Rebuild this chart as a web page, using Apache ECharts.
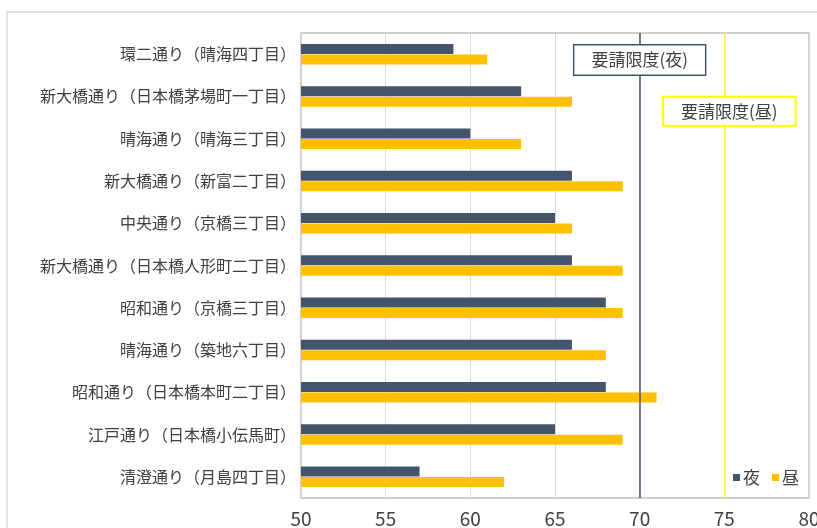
<!DOCTYPE html>
<html>
<head>
<meta charset="utf-8">
<script src="https://cdn.jsdelivr.net/npm/echarts@6/dist/echarts.min.js"></script>
<style>
html,body{margin:0;padding:0;background:#fff;}
#chart{width:817px;height:528px;}
</style>
</head>
<body>
<div id="chart"></div>
<script>
var categories = [
  '環二通り（晴海四丁目）',
  '新大橋通り（日本橋茅場町一丁目）',
  '晴海通り（晴海三丁目）',
  '新大橋通り（新富二丁目）',
  '中央通り（京橋三丁目）',
  '新大橋通り（日本橋人形町二丁目）',
  '昭和通り（京橋三丁目）',
  '晴海通り（築地六丁目）',
  '昭和通り（日本橋本町二丁目）',
  '江戸通り（日本橋小伝馬町）',
  '清澄通り（月島四丁目）'
];
var nightValues = [59, 63, 60, 66, 65, 66, 68, 66, 68, 65, 57];
var dayValues   = [61, 66, 63, 69, 66, 69, 69, 68, 71, 69, 62];
var nightLimit = 70;
var dayLimit = 75;
var nightLimitLabel = '要請限度(夜)';
var dayLimitLabel = '要請限度(昼)';
var seriesNames = ['夜', '昼'];

var FONT = '"Noto Sans CJK JP", "Noto Sans", sans-serif';
var chart = echarts.init(document.getElementById('chart'));
chart.setOption({
  animation: false,
  backgroundColor: '#fff',
  textStyle: { fontFamily: FONT },
  graphic: [{
    type: 'rect', z: -10, silent: true,
    shape: { x: 7, y: 12, width: 900, height: 600 },
    style: { fill: 'none', stroke: '#d9d9d9', lineWidth: 1.5 }
  }],
  grid: {
    left: 301, right: 8, top: 33, bottom: 30,
    outerBoundsMode: 'none', containLabel: false,
    show: true, borderColor: '#bfbfbf', borderWidth: 1.5, backgroundColor: 'transparent'
  },
  legend: {
    data: seriesNames,
    right: 13, top: 464,
    itemWidth: 7, itemHeight: 7, itemGap: 12,
    icon: 'rect',
    textStyle: { fontSize: 17, color: '#404040', fontFamily: FONT, padding: [0, 0, 0, -2] }
  },
  xAxis: {
    type: 'value', min: 50, max: 80, interval: 5,
    axisLine: { show: false }, axisTick: { show: false },
    splitLine: { show: true, lineStyle: { color: '#d9d9d9', width: 1 } },
    axisLabel: { fontSize: 19, color: '#404040', margin: 11, fontFamily: FONT, hideOverlap: false }
  },
  yAxis: {
    type: 'category', data: categories, inverse: true,
    axisLine: { show: false }, axisTick: { show: false },
    splitLine: { show: false },
    axisLabel: { fontSize: 16, color: '#404040', margin: 5, fontFamily: FONT }
  },
  series: [{
    name: seriesNames[0], type: 'bar', data: nightValues,
    barWidth: 10, barGap: '5%',
    itemStyle: { color: '#44546a' },
    markLine: {
      silent: true, symbol: 'none',
      label: { show: false },
      lineStyle: { color: '#44546a', width: 1.5, type: 'solid' },
      data: [{ xAxis: nightLimit }]
    },
    markPoint: {
      silent: true, z: 20,
      symbol: 'rect', symbolSize: 1,
      itemStyle: { color: 'transparent' },
      label: {
        show: true, position: 'inside', offset: [0, 11], formatter: nightLimitLabel,
        fontSize: 17, color: '#404040', fontFamily: FONT,
        backgroundColor: '#fff', borderColor: '#44546a', borderWidth: 1.5,
        padding: [6, 17, 6, 17]
      },
      data: [{ coord: [nightLimit, categories[0]] }]
    }
  }, {
    name: seriesNames[1], type: 'bar', data: dayValues,
    barWidth: 10,
    itemStyle: { color: '#ffc000' },
    markLine: {
      silent: true, symbol: 'none',
      label: { show: false },
      lineStyle: { color: '#ffff00', width: 1.5, type: 'solid' },
      data: [{ xAxis: dayLimit }]
    },
    markPoint: {
      silent: true, z: 20,
      symbol: 'rect', symbolSize: 1,
      itemStyle: { color: 'transparent' },
      label: {
        show: true, position: 'inside', offset: [5, 9.5], formatter: dayLimitLabel,
        fontSize: 17, color: '#404040', fontFamily: FONT,
        backgroundColor: '#fff', borderColor: '#ffff00', borderWidth: 2,
        padding: [5, 17, 5, 17]
      },
      data: [{ coord: [dayLimit, categories[1]] }]
    }
  }]
});
</script>
</body>
</html>
